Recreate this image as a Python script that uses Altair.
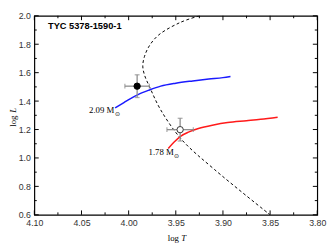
import altair as alt
import pandas as pd

# ---- data ----
iso_T = [3.925, 3.945, 3.968, 3.978, 3.9833, 3.985, 3.983, 3.978, 3.966, 3.9436, 3.9092, 3.85]
iso_L = [2.0, 1.954, 1.866, 1.789, 1.712, 1.646, 1.58, 1.503, 1.338, 1.128, 0.920, 0.60]

blue_T = [4.0143, 4.005, 3.998, 3.99, 3.978, 3.966, 3.95, 3.932, 3.915, 3.90, 3.892]
blue_L = [1.353, 1.39, 1.418, 1.446, 1.478, 1.505, 1.526, 1.542, 1.555, 1.565, 1.573]

red_T = [3.958, 3.952, 3.945, 3.936, 3.926, 3.91, 3.895, 3.875, 3.86, 3.842]
red_L = [1.067, 1.11, 1.152, 1.183, 1.207, 1.232, 1.249, 1.262, 1.272, 1.287]

star_T = [3.991, 3.9454]
star_L = [1.505, 1.199]
star_eT = [0.013, 0.014]
star_eL = [0.08, 0.08]
star_kind = ["filled", "open"]

x_major = [4.10, 4.05, 4.00, 3.95, 3.90, 3.85, 3.80]
x_minor = [4.075, 4.025, 3.975, 3.925, 3.875, 3.825]
y_major = [0.6, 0.8, 1.0, 1.2, 1.4, 1.6, 1.8, 2.0]
y_minor = [0.7, 0.9, 1.1, 1.3, 1.5, 1.7, 1.9]

W, H = 290, 204

xscale = alt.Scale(domain=[3.80, 4.10], reverse=True, nice=False, zero=False)
yscale = alt.Scale(domain=[0.6, 2.0], nice=False, zero=False)
xaxis = alt.Axis(values=x_major, format=".2f", title=None, ticks=False, domain=False,
                 grid=False, labelPadding=4, labelFlush=False, labelOverlap=False,
                 labelBound=False)
yaxis = alt.Axis(values=y_major, format=".1f", title=None, ticks=False, domain=False,
                 grid=False, labelPadding=4, labelFlush=False, labelOverlap=False,
                 labelBound=False)


def X(f):
    return alt.X(f, type="quantitative", scale=xscale, axis=xaxis)


def Y(f):
    return alt.Y(f, type="quantitative", scale=yscale, axis=yaxis)


iso = pd.DataFrame({"T": iso_T, "L": iso_L, "o": range(len(iso_T))})
blue = pd.DataFrame({"T": blue_T, "L": blue_L, "o": range(len(blue_T))})
red = pd.DataFrame({"T": red_T, "L": red_L, "o": range(len(red_T))})
stars = pd.DataFrame({"T": star_T, "L": star_L, "eT": star_eT, "eL": star_eL, "k": star_kind})
stars["T1"] = stars["T"] - stars["eT"]
stars["T2"] = stars["T"] + stars["eT"]
stars["L1"] = stars["L"] - stars["eL"]
stars["L2"] = stars["L"] + stars["eL"]

iso_layer = alt.Chart(iso).mark_line(color="black", strokeWidth=1, strokeDash=[3, 2.5],
                                     interpolate="catmull-rom", clip=True).encode(
    x=X("T"), y=Y("L"), order="o:Q")
blue_layer = alt.Chart(blue).mark_line(color="#1a1aff", strokeWidth=1.5,
                                       interpolate="monotone").encode(
    x=X("T"), y=Y("L"), order="o:Q")
red_layer = alt.Chart(red).mark_line(color="#ff1a1a", strokeWidth=1.5,
                                     interpolate="monotone").encode(
    x=X("T"), y=Y("L"), order="o:Q")

err_col = "#8c8c8c"
eh = alt.Chart(stars).mark_rule(color=err_col, strokeWidth=1.3).encode(
    x=X("T1"), x2="T2", y=Y("L"))
ev = alt.Chart(stars).mark_rule(color=err_col, strokeWidth=1.3).encode(
    x=X("T"), y=Y("L1"), y2="L2")
cap_l = alt.Chart(stars).mark_tick(color=err_col, orient="vertical", size=5, thickness=1.3).encode(
    x=X("T1"), y=Y("L"))
cap_r = alt.Chart(stars).mark_tick(color=err_col, orient="vertical", size=5, thickness=1.3).encode(
    x=X("T2"), y=Y("L"))
cap_b = alt.Chart(stars).mark_tick(color=err_col, orient="horizontal", size=5, thickness=1.3).encode(
    x=X("T"), y=Y("L1"))
cap_t = alt.Chart(stars).mark_tick(color=err_col, orient="horizontal", size=5, thickness=1.3).encode(
    x=X("T"), y=Y("L2"))

pts = alt.Chart(stars).mark_point(filled=True, size=42, opacity=1, strokeWidth=1).encode(
    x=X("T"), y=Y("L"),
    fill=alt.Fill("k:N", scale=alt.Scale(domain=["filled", "open"], range=["black", "white"]), legend=None),
    stroke=alt.Stroke("k:N", scale=alt.Scale(domain=["filled", "open"], range=["black", "#333333"]), legend=None),
    shape=alt.value("circle"))

# inward ticks on all four sides
xmaj = pd.DataFrame({"v": x_major})
xmin = pd.DataFrame({"v": x_minor})
ymaj = pd.DataFrame({"v": y_major})
ymin = pd.DataFrame({"v": y_minor})
tk = dict(color="black", strokeWidth=1)
ticks = [
    alt.Chart(xmaj).mark_rule(**tk).encode(x=X("v"), y=alt.value(H), y2=alt.value(H - 4.5)),
    alt.Chart(xmaj).mark_rule(**tk).encode(x=X("v"), y=alt.value(0), y2=alt.value(4.5)),
    alt.Chart(xmin).mark_rule(**tk).encode(x=X("v"), y=alt.value(H), y2=alt.value(H - 2.5)),
    alt.Chart(xmin).mark_rule(**tk).encode(x=X("v"), y=alt.value(0), y2=alt.value(2.5)),
    alt.Chart(ymaj).mark_rule(**tk).encode(y=Y("v"), x=alt.value(0), x2=alt.value(4.5)),
    alt.Chart(ymaj).mark_rule(**tk).encode(y=Y("v"), x=alt.value(W), x2=alt.value(W - 4.5)),
    alt.Chart(ymin).mark_rule(**tk).encode(y=Y("v"), x=alt.value(0), x2=alt.value(2.5)),
    alt.Chart(ymin).mark_rule(**tk).encode(y=Y("v"), x=alt.value(W), x2=alt.value(W - 2.5)),
]


def txt(s, x, y, size=9, font="Liberation Serif", style="normal", weight="normal",
        align="center", angle=0):
    return alt.Chart(pd.DataFrame({"t": [s]})).mark_text(
        font=font, fontSize=size, fontStyle=style, fontWeight=weight, align=align,
        baseline="middle", angle=angle, color="black").encode(
        text="t:N", x=alt.value(x), y=alt.value(y))


texts = [
    txt("TYC 5378-1590-1", 14, 11, size=9.5, font="Liberation Sans", weight="bold", align="left"),
    txt("2.09 M", 82, 96.5, align="right"),
    txt("⊙", 85, 100.5, size=6),
    txt("1.78 M", 143, 140, align="right"),
    txt("⊙", 146, 144, size=6),
    txt("log", 142.5, 228),
    txt("T", 153, 228, style="italic"),
    txt("log", -22, 108, angle=270),
    txt("L", -22, 97, style="italic", angle=270),
]

chart = alt.layer(
    *ticks, iso_layer, blue_layer, red_layer, eh, ev, cap_l, cap_r, cap_b, cap_t, pts, *texts
).properties(
    width=W, height=H,
    autosize=alt.AutoSizeParams(type="none"),
    padding={"left": 27, "top": 5, "right": 10, "bottom": 30},
).configure_view(
    stroke="black", strokeWidth=1.2
).configure_axis(
    labelFont="Liberation Sans", labelFontSize=9, labelColor="#333333"
)

chart.save("out.html", embed_options={"renderer": "svg", "actions": False})
